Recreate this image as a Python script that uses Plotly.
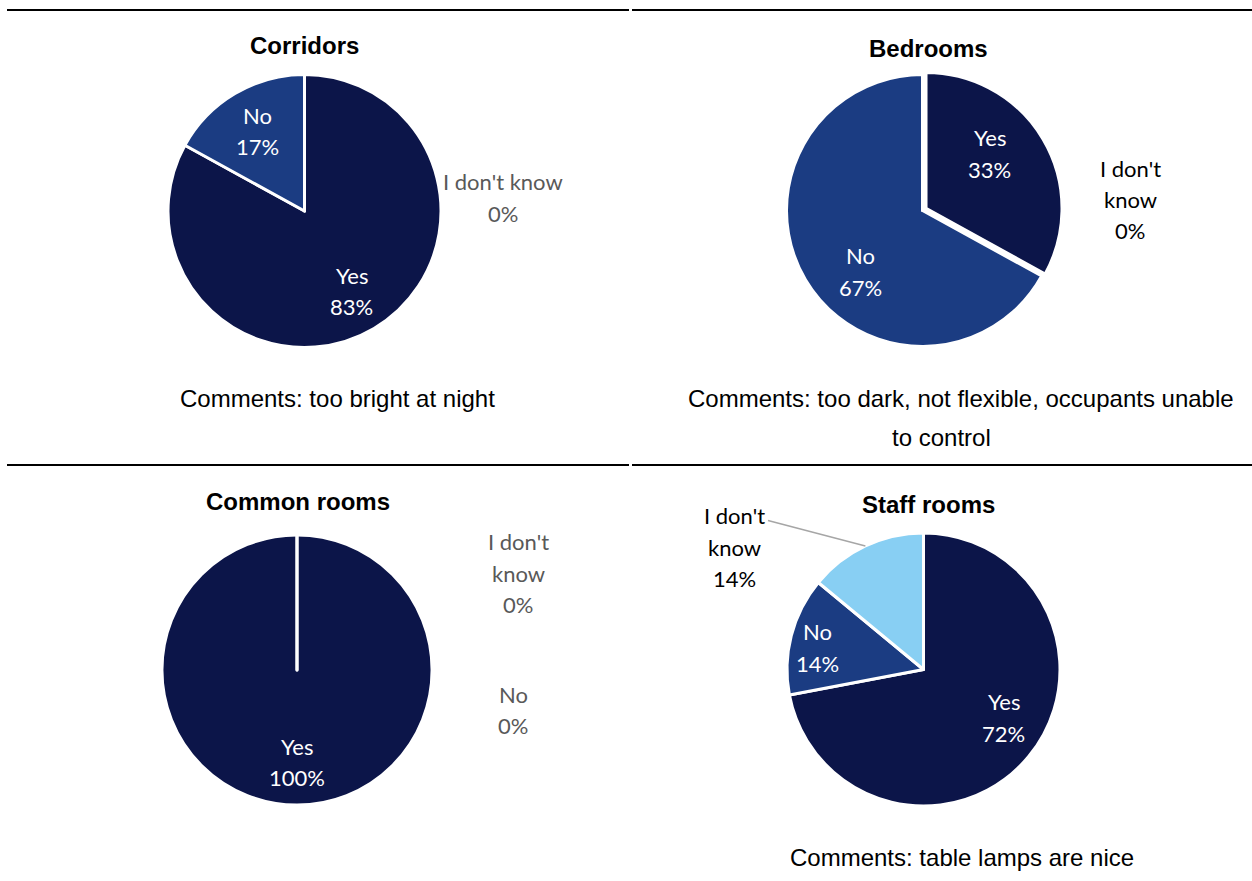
import math
import plotly.graph_objects as go

W, H = 1252, 881

# ---- data -------------------------------------------------------------
categories = ["Yes", "No", "I don't know"]
rooms = ["Corridors", "Bedrooms", "Common rooms", "Staff rooms"]
corridors = [83, 17, 0]
bedrooms = [33, 67, 0]
common_rooms = [100, 0, 0]
staff_rooms = [72, 14, 14]
comments = [
    ["Comments: too bright at night"],
    ["Comments: too dark, not flexible, occupants unable", "to control"],
    [],
    ["Comments: table lamps are nice"],
]

# ---- styling / layout -------------------------------------------------
colors = {"Yes": "#0c1549", "No": "#1b3c82", "I don't know": "#88cff3"}
LABEL_FONT = "Lato, 'Open Sans', sans-serif"
ARIAL = "'Liberation Sans', Arial, sans-serif"

# pixel geometry of each pie: centre x, centre y, radius
geom = {
    "Corridors": (304.5, 211, 136.5),
    "Bedrooms": (922.5, 210.5, 136),
    "Common rooms": (297, 670, 135),
    "Staff rooms": (923.5, 669.5, 136.5),
}
titles_pos = {
    "Corridors": (304, 46),
    "Bedrooms": (928, 48),
    "Common rooms": (298, 501),
    "Staff rooms": (929, 504),
}
comment_pos = {
    "Corridors": [(337, 399)],
    "Bedrooms": [(961, 399), (942, 437)],
    "Staff rooms": [(962, 857)],
}
pulls = {"Bedrooms": [0.03, 0, 0]}
# label placement (pixel offsets from pie centre) where the default spot
# along the slice bisector is not used
label_offsets = {
    ("Bedrooms", "Yes"): (67, -57),
    ("Bedrooms", "No"): (-62, 61),
    ("Staff rooms", "No"): (-106, -22),
    ("Staff rooms", "Yes"): (80, 48),
    ("Corridors", "I don't know"): (198.5, -13.5),
    ("Bedrooms", "I don't know"): (207.5, -11),
    ("Common rooms", "I don't know"): (221, -97),
    ("Common rooms", "No"): (216, 40),
    ("Staff rooms", "I don't know"): (-189.5, -122.5),
}
outside_color = {
    "Corridors": "#595959",
    "Common rooms": "#595959",
    "Bedrooms": "#000000",
    "Staff rooms": "#000000",
}
LINE_GAP = 31.5

series = dict(zip(rooms, [corridors, bedrooms, common_rooms, staff_rooms]))


def px(x):
    return x / W


def py(y):
    return 1 - y / H


fig = go.Figure()
annotations = []
shapes = []


def add_text(lines, x, y, size, color, family, spacing, bold=False):
    n = len(lines)
    for i, t in enumerate(lines):
        yy = y + (i - (n - 1) / 2) * spacing
        txt = f"<b>{t}</b>" if bold else t
        annotations.append(dict(
            x=px(x), y=py(yy), xref="paper", yref="paper",
            text=txt, showarrow=False, xanchor="center", yanchor="middle",
            font=dict(size=size, color=color, family=family),
        ))


for room in rooms:
    vals = series[room]
    cx, cy, r = geom[room]
    pull = pulls.get(room, [0, 0, 0])
    # plotly shrinks the pie by the largest pull, so widen the domain to keep r
    half = r * (1 + max(pull))
    fig.add_trace(go.Pie(
        labels=categories,
        values=vals,
        sort=False,
        direction="clockwise",
        rotation=0,
        textinfo="none",
        hoverinfo="label+percent",
        marker=dict(colors=[colors[c] for c in categories],
                    line=dict(color="white", width=3)),
        pull=pull,
        domain=dict(x=[px(cx - half), px(cx + half)],
                    y=[py(cy + half), py(cy - half)]),
        showlegend=False,
    ))

    total = sum(vals)
    cum = 0
    for cat, v in zip(categories, vals):
        mid = (cum + v / 2) / total * 2 * math.pi
        cum += v
        pct = f"{round(100 * v / total)}%"
        key = (room, cat)
        inside = v > 0 and not (room == "Staff rooms" and cat == "I don't know")
        if key in label_offsets:
            dx, dy = label_offsets[key]
            lx, ly = cx + dx, cy + dy
        else:
            lx = cx + 0.68 * r * math.sin(mid)
            ly = cy - 0.68 * r * math.cos(mid)
        if inside:
            words = [cat, pct]
            add_text(words, lx, ly, 22, "white", LABEL_FONT, LINE_GAP)
        else:
            if cat == "I don't know" and room != "Corridors":
                words = ["I don't", "know", pct]
            else:
                words = [cat, pct]
            add_text(words, lx, ly, 22, outside_color[room], LABEL_FONT, LINE_GAP)
            if v > 0:
                # leader line from the label to the slice edge
                ex = cx + r * math.sin(mid)
                ey = cy - r * math.cos(mid)
                shapes.append(dict(
                    type="line", xref="paper", yref="paper",
                    x0=px(lx + 34), y0=py(ly - LINE_GAP + 5),
                    x1=px(ex), y1=py(ey),
                    line=dict(color="#a6a6a6", width=1.5),
                ))

    tx, ty = titles_pos[room]
    add_text([room], tx, ty, 24, "black", ARIAL, 0, bold=True)

    for (cxp, cyp), line in zip(comment_pos.get(room, []),
                                comments[rooms.index(room)]):
        add_text([line], cxp, cyp, 24, "black", ARIAL, 0)

# black separator rules above each row of charts
for yline in (10, 465):
    for x0, x1 in ((7, 629), (632, 1252)):
        shapes.append(dict(type="line", xref="paper", yref="paper",
                           x0=px(x0), x1=px(x1), y0=py(yline), y1=py(yline),
                           line=dict(color="black", width=2)))

fig.update_layout(
    width=W, height=H,
    margin=dict(l=0, r=0, t=0, b=0),
    paper_bgcolor="white",
    plot_bgcolor="white",
    annotations=annotations,
    shapes=shapes,
)

fig.write_html("out.html")
